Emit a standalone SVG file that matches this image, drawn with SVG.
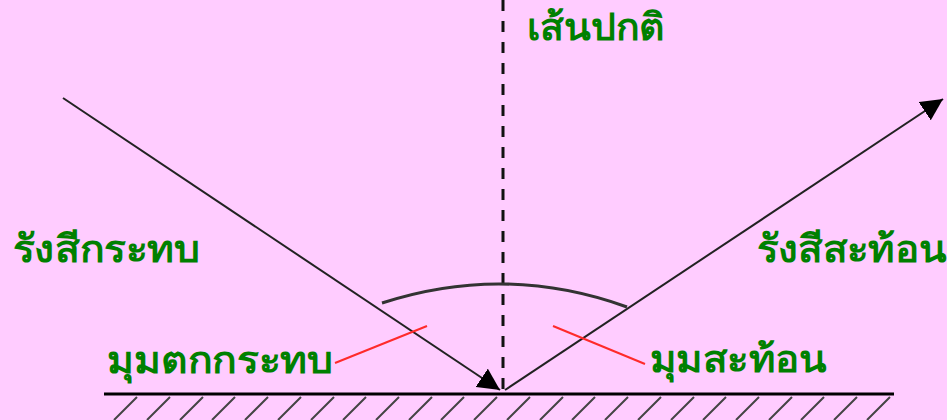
<svg xmlns="http://www.w3.org/2000/svg" width="947" height="420" viewBox="0 0 947 420">
<defs>
<style>
.lbl{font-family:"Noto Sans","DejaVu Sans",sans-serif;font-size:38px;font-weight:bold;fill:#008000}
.ray{stroke:#222;stroke-width:2;fill:none}
.red{stroke:#ff2a2a;stroke-width:2;fill:none}
.hatch{stroke:#444;stroke-width:2}
</style>
<marker id="ah" viewBox="0 0 10 10" refX="10" refY="5" markerWidth="22" markerHeight="22" markerUnits="userSpaceOnUse" orient="auto">
<path d="M0,0 L10,5 L0,10 z" fill="#000"/>
</marker>
</defs>
<rect width="947" height="420" fill="#ffccff"/>
<g id="surface">
<line x1="104" y1="394" x2="894" y2="394" stroke="#000" stroke-width="3"/>
<path class="hatch" d="M137,397l-23,23M170,397l-23,23M203,397l-23,23M235,397l-23,23M268,397l-23,23M301,397l-23,23M334,397l-23,23M366,397l-23,23M399,397l-23,23M432,397l-23,23M464,397l-23,23M497,397l-23,23M530,397l-23,23M563,397l-23,23M595,397l-23,23M628,397l-23,23M661,397l-23,23M694,397l-23,23M726,397l-23,23M759,397l-23,23M792,397l-23,23M824,397l-23,23M857,397l-23,23M890,397l-23,23"/>
</g>
<g id="connectors">
<line id="normal" x1="503" y1="0" x2="503" y2="390" stroke="#111" stroke-width="3" stroke-dasharray="11 10"/>
<line id="incident" class="ray" x1="63" y1="98" x2="500" y2="390" marker-end="url(#ah)"/>
<line id="reflected" class="ray" x1="505" y1="390" x2="943" y2="99" marker-end="url(#ah)"/>
<path id="arc" d="M382,303 Q505,263 627,307" stroke="#333" stroke-width="3" fill="none"/>
<line class="red" x1="335" y1="363" x2="427" y2="326"/>
<line class="red" x1="553" y1="326" x2="645" y2="364"/>
</g>
<g id="label-normal"><text class="lbl" x="527" y="40" textLength="138" lengthAdjust="spacingAndGlyphs">เส้นปกติ</text></g>
<g id="label-incident"><text class="lbl" x="13" y="262" textLength="187" lengthAdjust="spacingAndGlyphs">รังสีกระทบ</text></g>
<g id="label-reflected"><text class="lbl" x="757" y="262" textLength="190" lengthAdjust="spacingAndGlyphs">รังสีสะท้อน</text></g>
<g id="label-angle-i"><text class="lbl" x="107" y="373" textLength="226" lengthAdjust="spacingAndGlyphs">มุมตกกระทบ</text></g>
<g id="label-angle-r"><text class="lbl" x="650" y="372" textLength="177" lengthAdjust="spacingAndGlyphs">มุมสะท้อน</text></g>
</svg>
